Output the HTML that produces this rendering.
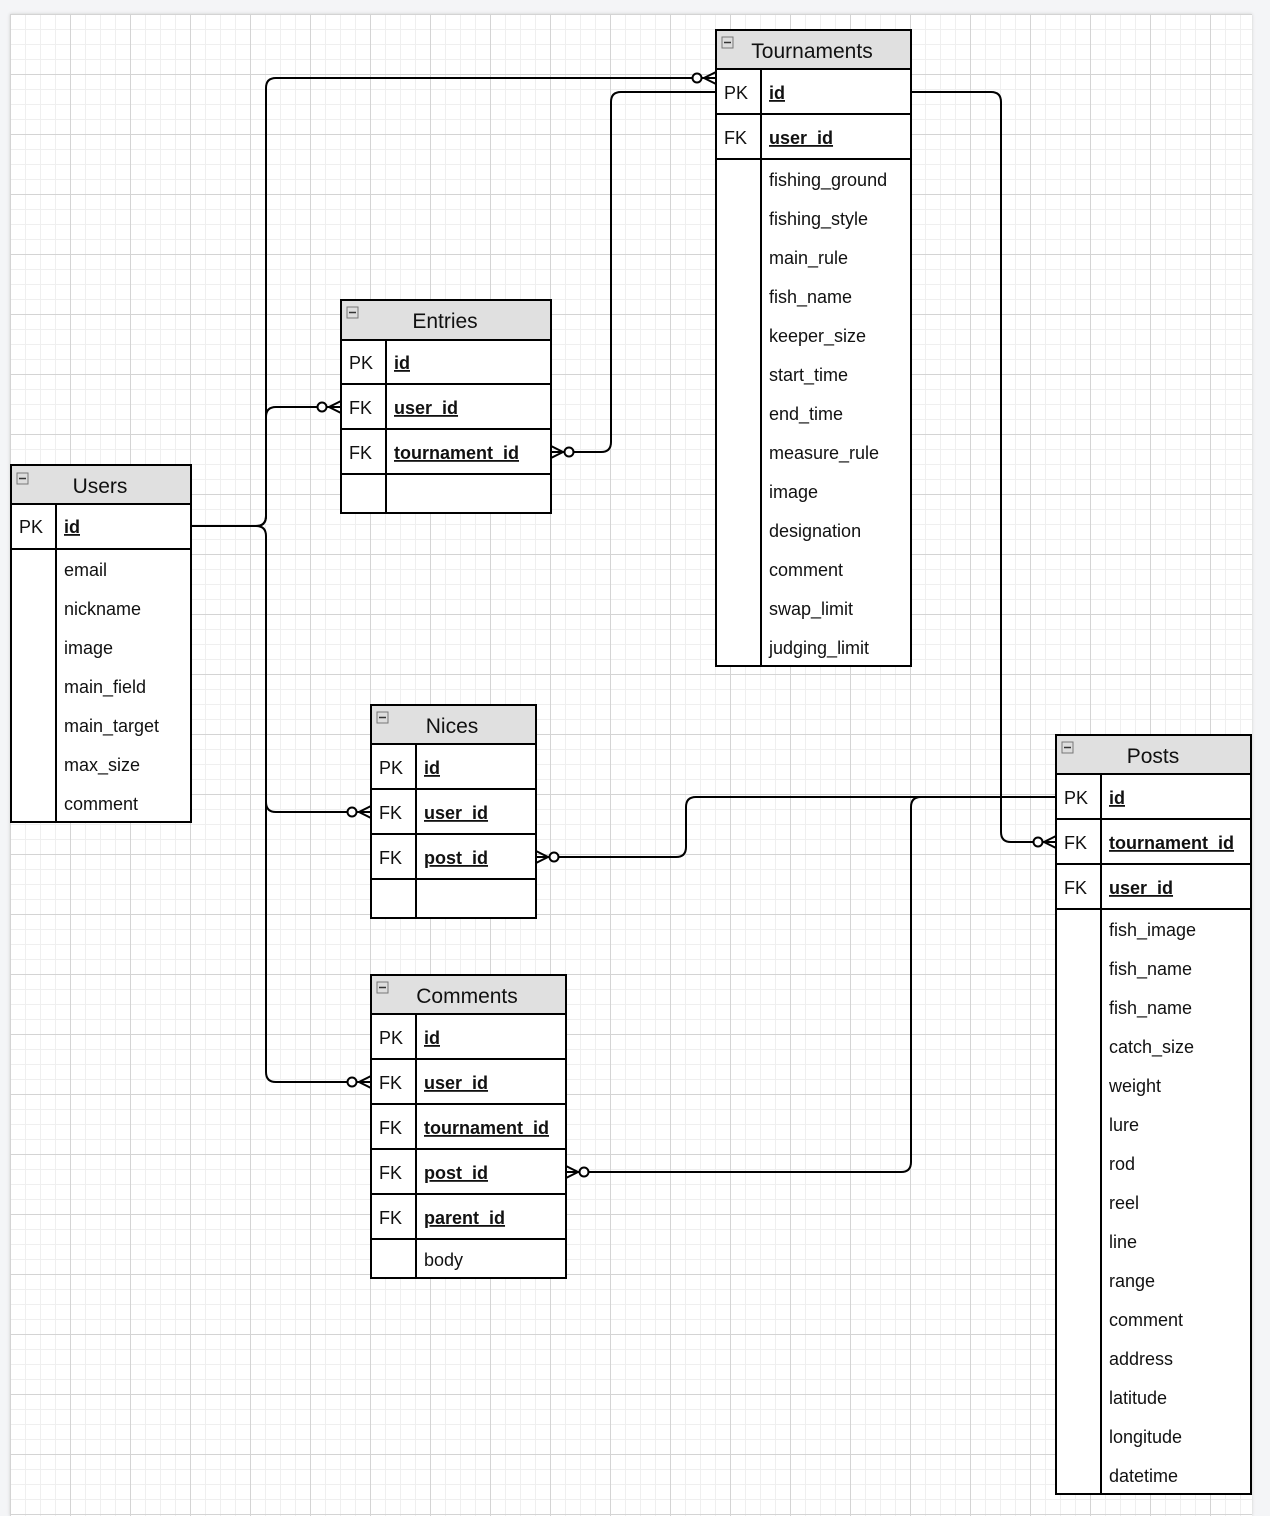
<!DOCTYPE html>
<html><head><meta charset="utf-8"><style>
html,body{margin:0;padding:0;width:1270px;height:1516px;background:#f4f5f7;overflow:hidden}
#c{position:absolute;left:10px;top:14px;width:1242px;height:1502px;background-color:#fff;
background-image:
linear-gradient(#d4d4d4 1px,transparent 1px),linear-gradient(90deg,#d4d4d4 1px,transparent 1px),
linear-gradient(#efefef 1px,transparent 1px),linear-gradient(90deg,#efefef 1px,transparent 1px);
background-size:60px 60px,60px 60px,15px 15px,15px 15px;background-position:0 0;box-shadow:0 0 3px #ccc}
svg{position:absolute;left:0;top:0}
text{font-family:"Liberation Sans",Arial,sans-serif;font-size:18px;fill:#111}
.h{font-size:21px;text-anchor:middle}
.u{text-decoration:underline;font-weight:bold}
</style></head><body>
<div id="c"></div>
<svg width="1270" height="1516" viewBox="0 0 1270 1516">
<g fill="none" stroke="#000" stroke-width="2">
<path d="M191 526 H256 Q266 526 266 516 V88 Q266 78 276 78 H716"/>
<path d="M191 526 H256 Q266 526 266 516 V417 Q266 407 276 407 H341"/>
<path d="M191 526 H256 Q266 526 266 536 V802 Q266 812 276 812 H371"/>
<path d="M266 800 V1072 Q266 1082 276 1082 H371"/>
<path d="M716 92 H621 Q611 92 611 102 V442 Q611 452 601 452 H551"/>
<path d="M911 92 H991 Q1001 92 1001 102 V832 Q1001 842 1011 842 H1056"/>
<path d="M1056 797 H696 Q686 797 686 807 V847 Q686 857 676 857 H536"/>
<path d="M1056 797 H921 Q911 797 911 807 V1162 Q911 1172 901 1172 H566"/>
</g>
<g fill="#fff" stroke="#000" stroke-width="2">
<circle cx="697" cy="78" r="4.5"/><path d="M716 72 L704 78 L716 84" fill="none"/>
<circle cx="322" cy="407" r="4.5"/><path d="M341 401 L329 407 L341 413" fill="none"/>
<circle cx="352" cy="812" r="4.5"/><path d="M371 806 L359 812 L371 818" fill="none"/>
<circle cx="352" cy="1082" r="4.5"/><path d="M371 1076 L359 1082 L371 1088" fill="none"/>
<circle cx="1038" cy="842" r="4.5"/><path d="M1056 836 L1044 842 L1056 848" fill="none"/>
<circle cx="569" cy="452" r="4.5"/><path d="M551 446 L563 452 L551 458" fill="none"/>
<circle cx="554" cy="857" r="4.5"/><path d="M536 851 L548 857 L536 863" fill="none"/>
<circle cx="584" cy="1172" r="4.5"/><path d="M566 1166 L578 1172 L566 1178" fill="none"/>
</g>

<g stroke="#000" stroke-width="2">
<rect x="11" y="465" width="180" height="357" fill="#fff"/>
<rect x="11" y="465" width="180" height="39" fill="#e0e0e0"/>
<line x1="11" y1="549" x2="191" y2="549"/><line x1="56" y1="504" x2="56" y2="822"/>
<rect x="341" y="300" width="210" height="213" fill="#fff"/>
<rect x="341" y="300" width="210" height="40" fill="#e0e0e0"/>
<line x1="341" y1="384" x2="551" y2="384"/><line x1="341" y1="429" x2="551" y2="429"/><line x1="341" y1="474" x2="551" y2="474"/><line x1="386" y1="340" x2="386" y2="513"/>
<rect x="716" y="30" width="195" height="636" fill="#fff"/>
<rect x="716" y="30" width="195" height="39" fill="#e0e0e0"/>
<line x1="716" y1="114" x2="911" y2="114"/><line x1="716" y1="159" x2="911" y2="159"/><line x1="761" y1="69" x2="761" y2="666"/>
<rect x="371" y="705" width="165" height="213" fill="#fff"/>
<rect x="371" y="705" width="165" height="39" fill="#e0e0e0"/>
<line x1="371" y1="789" x2="536" y2="789"/><line x1="371" y1="834" x2="536" y2="834"/><line x1="371" y1="879" x2="536" y2="879"/><line x1="416" y1="744" x2="416" y2="918"/>
<rect x="371" y="975" width="195" height="303" fill="#fff"/>
<rect x="371" y="975" width="195" height="39" fill="#e0e0e0"/>
<line x1="371" y1="1059" x2="566" y2="1059"/><line x1="371" y1="1104" x2="566" y2="1104"/><line x1="371" y1="1149" x2="566" y2="1149"/><line x1="371" y1="1194" x2="566" y2="1194"/><line x1="371" y1="1239" x2="566" y2="1239"/><line x1="416" y1="1014" x2="416" y2="1278"/>
<rect x="1056" y="735" width="195" height="759" fill="#fff"/>
<rect x="1056" y="735" width="195" height="39" fill="#e0e0e0"/>
<line x1="1056" y1="819" x2="1251" y2="819"/><line x1="1056" y1="864" x2="1251" y2="864"/><line x1="1056" y1="909" x2="1251" y2="909"/><line x1="1101" y1="774" x2="1101" y2="1494"/>
</g>
<g fill="#ddd" stroke="#777" stroke-width="1">
<rect x="17" y="473" width="11" height="11"/><rect x="347" y="307" width="11" height="11"/><rect x="722" y="37" width="11" height="11"/>
<rect x="377" y="712" width="11" height="11"/><rect x="377" y="982" width="11" height="11"/><rect x="1062" y="742" width="11" height="11"/>
</g>
<g stroke="#333" stroke-width="1.5">
<line x1="19" y1="478.5" x2="26" y2="478.5"/><line x1="349" y1="312.5" x2="356" y2="312.5"/><line x1="724" y1="42.5" x2="731" y2="42.5"/>
<line x1="379" y1="717.5" x2="386" y2="717.5"/><line x1="379" y1="987.5" x2="386" y2="987.5"/><line x1="1064" y1="747.5" x2="1071" y2="747.5"/>
</g>

<text class="h" x="100" y="493">Users</text>
<text x="19" y="533">PK</text><text class="u" x="64" y="533">id</text>
<text x="64" y="576">email</text><text x="64" y="615">nickname</text><text x="64" y="654">image</text><text x="64" y="693">main_field</text><text x="64" y="732">main_target</text><text x="64" y="771">max_size</text><text x="64" y="810">comment</text>

<text class="h" x="445" y="328">Entries</text>
<text x="349" y="369">PK</text><text class="u" x="394" y="369">id</text>
<text x="349" y="414">FK</text><text class="u" x="394" y="414">user_id</text>
<text x="349" y="459">FK</text><text class="u" x="394" y="459">tournament_id</text>

<text class="h" x="812" y="58">Tournaments</text>
<text x="724" y="99">PK</text><text class="u" x="769" y="99">id</text>
<text x="724" y="144">FK</text><text class="u" x="769" y="144">user_id</text>
<text x="769" y="186">fishing_ground</text><text x="769" y="225">fishing_style</text><text x="769" y="264">main_rule</text><text x="769" y="303">fish_name</text><text x="769" y="342">keeper_size</text><text x="769" y="381">start_time</text><text x="769" y="420">end_time</text><text x="769" y="459">measure_rule</text><text x="769" y="498">image</text><text x="769" y="537">designation</text><text x="769" y="576">comment</text><text x="769" y="615">swap_limit</text><text x="769" y="654">judging_limit</text>

<text class="h" x="452" y="733">Nices</text>
<text x="379" y="774">PK</text><text class="u" x="424" y="774">id</text>
<text x="379" y="819">FK</text><text class="u" x="424" y="819">user_id</text>
<text x="379" y="864">FK</text><text class="u" x="424" y="864">post_id</text>

<text class="h" x="467" y="1003">Comments</text>
<text x="379" y="1044">PK</text><text class="u" x="424" y="1044">id</text>
<text x="379" y="1089">FK</text><text class="u" x="424" y="1089">user_id</text>
<text x="379" y="1134">FK</text><text class="u" x="424" y="1134">tournament_id</text>
<text x="379" y="1179">FK</text><text class="u" x="424" y="1179">post_id</text>
<text x="379" y="1224">FK</text><text class="u" x="424" y="1224">parent_id</text>
<text x="424" y="1266">body</text>

<text class="h" x="1153" y="763">Posts</text>
<text x="1064" y="804">PK</text><text class="u" x="1109" y="804">id</text>
<text x="1064" y="849">FK</text><text class="u" x="1109" y="849">tournament_id</text>
<text x="1064" y="894">FK</text><text class="u" x="1109" y="894">user_id</text>
<text x="1109" y="936">fish_image</text><text x="1109" y="975">fish_name</text><text x="1109" y="1014">fish_name</text><text x="1109" y="1053">catch_size</text><text x="1109" y="1092">weight</text><text x="1109" y="1131">lure</text><text x="1109" y="1170">rod</text><text x="1109" y="1209">reel</text><text x="1109" y="1248">line</text><text x="1109" y="1287">range</text><text x="1109" y="1326">comment</text><text x="1109" y="1365">address</text><text x="1109" y="1404">latitude</text><text x="1109" y="1443">longitude</text><text x="1109" y="1482">datetime</text>
</svg>
</body></html>
